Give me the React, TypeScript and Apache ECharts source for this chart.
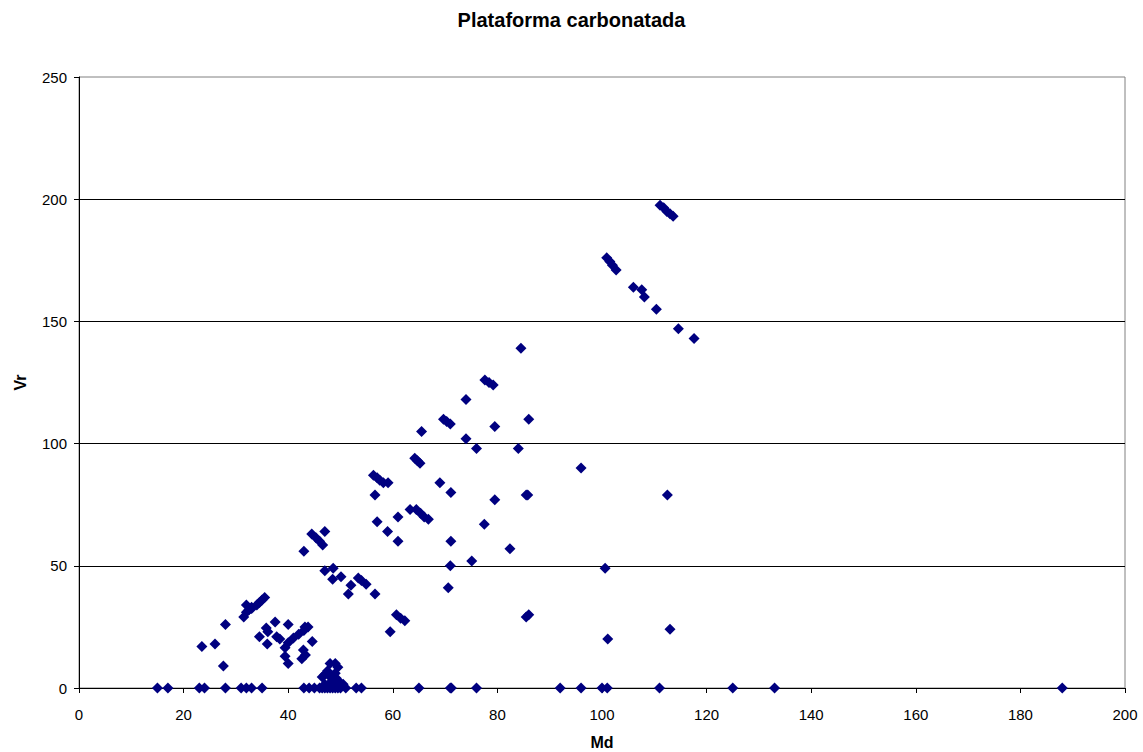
import React, { useEffect, useRef } from "react";
import * as echarts from "echarts";

const titleText = "Plataforma carbonatada";
const xName = "Md";
const yName = "Vr";

// Md values (x) and Vr values (y), paired by index
const mdValues: number[] = [
  15, 17, 23, 24, 28, 31, 32, 33, 35, 43, 44, 45, 46, 46.5, 47, 47.5, 48, 48.5, 49, 49.5, 50, 51, 53, 54, 65, 71, 71.2, 76, 92, 96, 100, 101, 111, 125, 133, 188,
  46.5, 47, 47.5, 48, 49, 49.5, 49, 48.5, 50, 50.5, 47, 48, 49.2, 47.8,
  23.5, 26, 27.6, 28,
  31.5, 32, 32.5, 33, 34, 34.5, 35, 35.5, 32, 33,
  37.5, 40, 35.8, 36.1, 34.5, 37.8, 38.4, 36,
  43.8, 43, 42, 41, 40, 39.4, 44.6, 42.9, 42.6, 43.3, 39.4, 40, 43.2,
  43, 44.5, 45.3, 46, 46.6, 47,
  47, 48.6, 48.5, 50.1, 53.4, 54, 54.9, 52, 51.5, 56.6,
  60.7, 61.5, 62.3, 59.5,
  57, 59, 61, 61, 63.3, 64.5, 65.3, 66, 66.8,
  56.6, 56.3, 57, 57.5, 58.2, 59.1,
  64.2, 64.7, 65.2, 65.5, 69, 71.1, 71.1, 71, 70.6, 75.1,
  77.5, 79.5, 82.4, 85.5, 85.8, 85.5, 86,
  69.7, 70.3, 71, 74, 74, 76, 79.5, 86, 84, 84.5,
  77.6, 78.4, 79.2, 96,
  100.6, 101.1, 112.5, 113,
  100.9, 101.5, 102, 102.7, 106, 107.6, 108.1, 110.4, 114.6, 117.6,
  111.1, 111.8, 112.4, 113, 113.6,
];

const vrValues: number[] = [
  0, 0, 0, 0, 0, 0, 0, 0, 0, 0, 0, 0, 0, 0, 0, 0, 0, 0, 0, 0, 0, 0, 0, 0, 0, 0, 0, 0, 0, 0, 0, 0, 0, 0, 0, 0,
  4.5, 5.5, 7, 10, 10, 8.5, 6, 3, 2, 1.5, 1.5, 2, 4, 5,
  17, 18, 9, 26,
  29, 31, 32, 32.5, 34, 35, 36, 37, 34, 33,
  27, 26, 24.5, 23, 21, 21, 20, 18,
  25, 23.5, 22, 20.5, 18.5, 16.5, 19, 15.5, 12, 13.5, 13, 10, 25,
  56, 63, 61.5, 60, 58.5, 64,
  48, 49, 44.5, 45.5, 45, 44, 42.5, 42, 38.5, 38.5,
  30, 28.5, 27.5, 23,
  68, 64, 60, 70, 73, 73, 71.5, 70, 69,
  79, 87, 86, 85, 84, 84,
  94, 93, 92, 105, 84, 80, 60, 50, 41, 52,
  67, 77, 57, 79, 79, 29, 30,
  110, 109, 108, 118, 102, 98, 107, 110, 98, 139,
  126, 125, 124, 90,
  49, 20, 79, 24,
  176, 174.5, 173, 171, 164, 163, 160, 155, 147, 143,
  197.5, 196.5, 195, 194, 193,
];

const xMin = 0, xMax = 200, xStep = 20;
const yMin = 0, yMax = 250, yStep = 50;

export default function App() {
  const ref = useRef<HTMLDivElement>(null);
  useEffect(() => {
    if (!ref.current) return;
    const chart = echarts.init(ref.current, null, { renderer: "svg" });
    const data = mdValues.map((x, i) => [x, vrValues[i]]);
    const font = "Arial, 'Liberation Sans', sans-serif";
    chart.setOption({
      animation: false,
      backgroundColor: "#ffffff",
      title: {
        text: titleText,
        left: "center",
        top: 5,
        textStyle: { fontFamily: font, fontSize: 20, fontWeight: "bold", color: "#000" },
      },
      grid: {
        left: 79,
        right: 18,
        top: 77,
        bottom: 64,
        outerBoundsMode: "none",
        containLabel: false,
        show: true,
        borderColor: "#808080",
        borderWidth: 1,
        backgroundColor: "transparent",
      },
      xAxis: {
        type: "value",
        min: xMin,
        max: xMax,
        interval: xStep,
        name: xName,
        nameLocation: "middle",
        nameGap: 46,
        nameTextStyle: { fontFamily: font, fontSize: 16, fontWeight: "bold", color: "#000" },
        axisLine: { show: true, onZero: false, lineStyle: { color: "#000", width: 1 } },
        axisTick: { show: true, inside: false, length: 5, lineStyle: { color: "#000" } },
        axisLabel: { fontFamily: font, fontSize: 15, color: "#000", margin: 19 },
        splitLine: { show: false },
      },
      yAxis: {
        type: "value",
        min: yMin,
        max: yMax,
        interval: yStep,
        name: yName,
        nameLocation: "middle",
        nameGap: 51,
        nameRotate: 90,
        nameTextStyle: { fontFamily: font, fontSize: 16, fontWeight: "bold", color: "#000" },
        axisLine: { show: true, lineStyle: { color: "#000", width: 1 } },
        axisTick: { show: true, inside: false, length: 5, lineStyle: { color: "#000" } },
        axisLabel: { fontFamily: font, fontSize: 15, color: "#000", margin: 12 },
        splitLine: { show: true, showMaxLine: false, lineStyle: { color: "#000", width: 1 } },
      },
      series: [
        {
          type: "scatter",
          data,
          symbol: "diamond",
          symbolSize: 11,
          itemStyle: { color: "#000080", opacity: 1 },
          emphasis: { disabled: true },
        },
      ],
    });
    return () => chart.dispose();
  }, []);
  return <div ref={ref} style={{ width: 1143, height: 752, position: "absolute", left: 0, top: 0 }} />;
}
